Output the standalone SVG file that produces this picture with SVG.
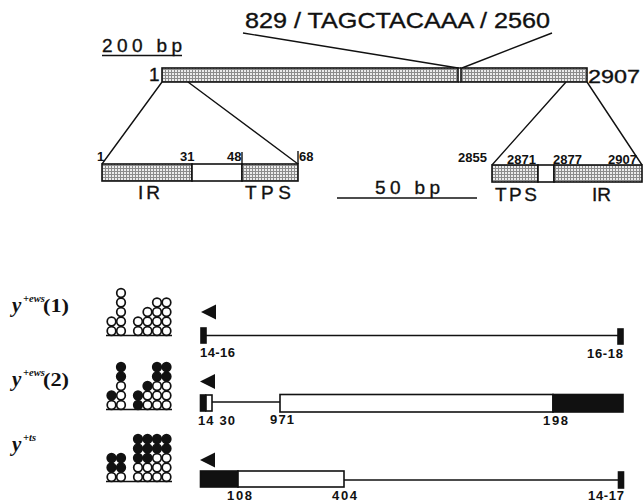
<svg xmlns="http://www.w3.org/2000/svg" width="644" height="502" viewBox="0 0 644 502">
<defs>
<pattern id="stip" width="3" height="3" patternUnits="userSpaceOnUse">
<rect width="3" height="3" fill="#ececec"/>
<path d="M0 0.5H3M0.5 0V3" stroke="#8c8c8c" stroke-width="1"/>
</pattern>
<style>
.t{font-family:"Liberation Sans",Arial,sans-serif;fill:#111}
.big{font-size:22px;stroke:#111;stroke-width:0.35}
.med{font-size:19px;stroke:#111;stroke-width:0.35}
.sm{font-size:13px;font-weight:bold}
.lb{font-size:13px;font-weight:bold}
.ser{font-family:"Liberation Serif","Times New Roman",serif;font-weight:bold;fill:#111}
.st{fill:url(#stip);stroke:#111;stroke-width:1.6}
.wb{fill:#fff;stroke:#111;stroke-width:1.6}
.kb{fill:#111;stroke:#111;stroke-width:1.6}
.ln{stroke:#111;stroke-width:1.4;fill:none}
.w{fill:#fff;stroke:#111;stroke-width:1.7}
.k{fill:#111;stroke:#111;stroke-width:1.7}
.arr{fill:#111}
</style>
</defs>
<rect width="644" height="502" fill="#fff"/>

<g id="connectors">
<path class="ln" d="M243 33L458 68M552 33L462 68"/>
<path class="ln" d="M162 82L102 164M188 82L298 164"/>
<path class="ln" d="M566 82L492 165M587 82L642 165"/>
</g>

<g id="insertion-label">
<text class="t big" x="245" y="28" textLength="305" lengthAdjust="spacingAndGlyphs">829 / TAGCTACAAA / 2560</text>
</g>

<g id="scale-200">
<text class="t med" x="102" y="52" textLength="80" lengthAdjust="spacing">200 bp</text>
<line class="ln" x1="102" y1="55.5" x2="182" y2="55.5"/>
</g>

<g id="full-element">
<rect class="st" x="162" y="68" width="296" height="14"/>
<rect class="st" x="461" y="68" width="126" height="14"/>
<line class="ln" x1="458" y1="68" x2="461" y2="68"/>
<line class="ln" x1="458" y1="82" x2="461" y2="82"/>
<text class="t med" x="149" y="81">1</text>
<text class="t med" x="588" y="83" textLength="52" lengthAdjust="spacingAndGlyphs">2907</text>
</g>

<g id="left-end">
<rect class="st" x="102" y="164" width="90" height="17"/>
<rect class="wb" x="192" y="164" width="50" height="17"/>
<rect class="st" x="242" y="164" width="56" height="17"/>
<line class="ln" x1="242" y1="152" x2="242" y2="164"/>
<line class="ln" x1="298" y1="151" x2="298" y2="164"/>
<text class="t sm" x="97" y="161">1</text>
<text class="t sm" x="180" y="161">31</text>
<text class="t sm" x="227" y="161">48</text>
<text class="t sm" x="299" y="161">68</text>
<text class="t med" x="138" y="199" textLength="22" lengthAdjust="spacing">IR</text>
<text class="t med" x="245" y="199" textLength="46" lengthAdjust="spacing">TPS</text>
</g>

<g id="scale-50">
<text class="t med" x="375" y="194" textLength="65" lengthAdjust="spacing">50 bp</text>
<line class="ln" x1="337" y1="198" x2="477" y2="198"/>
</g>

<g id="right-end">
<rect class="st" x="492" y="165" width="46" height="17"/>
<rect class="wb" x="538" y="165" width="16" height="17"/>
<rect class="st" x="554" y="165" width="88" height="17"/>
<text class="t sm" x="458" y="162">2855</text>
<text class="t sm" x="507" y="164">2871</text>
<text class="t sm" x="553" y="164">2877</text>
<text class="t sm" x="608" y="164">2907</text>
<text class="t med" x="495" y="201" textLength="42" lengthAdjust="spacing">TPS</text>
<text class="t med" x="592" y="201" textLength="19" lengthAdjust="spacing">IR</text>
</g>

<g id="label-ews1">
<text class="ser" x="12" y="312" font-size="21" font-style="italic">y</text>
<text class="ser" x="23" y="302" font-size="10.5" font-style="italic">+ews</text>
<text class="ser" x="43" y="312" font-size="19" textLength="26" lengthAdjust="spacingAndGlyphs">(1)</text>
</g>
<g id="label-ews2">
<text class="ser" x="12" y="386" font-size="21" font-style="italic">y</text>
<text class="ser" x="23" y="376" font-size="10.5" font-style="italic">+ews</text>
<text class="ser" x="43" y="386" font-size="19" textLength="26" lengthAdjust="spacingAndGlyphs">(2)</text>
</g>
<g id="label-ts">
<text class="ser" x="12" y="451" font-size="21" font-style="italic">y</text>
<text class="ser" x="23" y="441" font-size="10.5" font-style="italic">+ts</text>
</g>

<g id="dots-ews1">
<line class="ln" x1="106" y1="335.5" x2="172" y2="335.5"/>
<circle class="w" cx="111.5" cy="331" r="4.3"/><circle class="w" cx="111.5" cy="321.5" r="4.3"/>
<circle class="w" cx="121" cy="331" r="4.3"/><circle class="w" cx="121" cy="321.5" r="4.3"/><circle class="w" cx="121" cy="312" r="4.3"/><circle class="w" cx="121" cy="302.5" r="4.3"/><circle class="w" cx="121" cy="293" r="4.3"/>
<circle class="w" cx="138" cy="331" r="4.3"/><circle class="w" cx="138" cy="321.5" r="4.3"/>
<circle class="w" cx="147.5" cy="331" r="4.3"/><circle class="w" cx="147.5" cy="321.5" r="4.3"/><circle class="w" cx="147.5" cy="312" r="4.3"/>
<circle class="w" cx="157" cy="331" r="4.3"/><circle class="w" cx="157" cy="321.5" r="4.3"/><circle class="w" cx="157" cy="312" r="4.3"/><circle class="w" cx="157" cy="302.5" r="4.3"/>
<circle class="w" cx="166.5" cy="331" r="4.3"/><circle class="w" cx="166.5" cy="321.5" r="4.3"/><circle class="w" cx="166.5" cy="312" r="4.3"/><circle class="w" cx="166.5" cy="302.5" r="4.3"/>
</g>

<g id="dots-ews2">
<line class="ln" x1="106" y1="409.5" x2="172" y2="409.5"/>
<circle class="w" cx="111.5" cy="405" r="4.3"/><circle class="k" cx="111.5" cy="395.5" r="4.3"/>
<circle class="w" cx="121" cy="405" r="4.3"/><circle class="w" cx="121" cy="395.5" r="4.3"/><circle class="w" cx="121" cy="386" r="4.3"/><circle class="k" cx="121" cy="376.5" r="4.3"/><circle class="k" cx="121" cy="367" r="4.3"/>
<circle class="k" cx="138" cy="405" r="4.3"/><circle class="k" cx="138" cy="395.5" r="4.3"/>
<circle class="w" cx="147.5" cy="405" r="4.3"/><circle class="w" cx="147.5" cy="395.5" r="4.3"/><circle class="k" cx="147.5" cy="386" r="4.3"/>
<circle class="w" cx="157" cy="405" r="4.3"/><circle class="w" cx="157" cy="395.5" r="4.3"/><circle class="w" cx="157" cy="386" r="4.3"/><circle class="k" cx="157" cy="376.5" r="4.3"/><circle class="k" cx="157" cy="367" r="4.3"/>
<circle class="w" cx="166.5" cy="405" r="4.3"/><circle class="w" cx="166.5" cy="395.5" r="4.3"/><circle class="w" cx="166.5" cy="386" r="4.3"/><circle class="k" cx="166.5" cy="376.5" r="4.3"/><circle class="k" cx="166.5" cy="367" r="4.3"/>
</g>

<g id="dots-ts">
<line class="ln" x1="106" y1="481.5" x2="172" y2="481.5"/>
<circle class="w" cx="111.5" cy="477" r="4.3"/><circle class="k" cx="111.5" cy="467.5" r="4.3"/><circle class="k" cx="111.5" cy="458" r="4.3"/>
<circle class="w" cx="121" cy="477" r="4.3"/><circle class="k" cx="121" cy="467.5" r="4.3"/><circle class="k" cx="121" cy="458" r="4.3"/>
<circle class="w" cx="138" cy="477" r="4.3"/><circle class="w" cx="138" cy="467.5" r="4.3"/><circle class="k" cx="138" cy="458" r="4.3"/><circle class="k" cx="138" cy="448.5" r="4.3"/><circle class="k" cx="138" cy="439" r="4.3"/>
<circle class="w" cx="147.5" cy="477" r="4.3"/><circle class="w" cx="147.5" cy="467.5" r="4.3"/><circle class="k" cx="147.5" cy="458" r="4.3"/><circle class="k" cx="147.5" cy="448.5" r="4.3"/><circle class="k" cx="147.5" cy="439" r="4.3"/>
<circle class="w" cx="157" cy="477" r="4.3"/><circle class="w" cx="157" cy="467.5" r="4.3"/><circle class="w" cx="157" cy="458" r="4.3"/><circle class="k" cx="157" cy="448.5" r="4.3"/><circle class="k" cx="157" cy="439" r="4.3"/>
<circle class="w" cx="166.5" cy="477" r="4.3"/><circle class="w" cx="166.5" cy="467.5" r="4.3"/><circle class="w" cx="166.5" cy="458" r="4.3"/><circle class="k" cx="166.5" cy="448.5" r="4.3"/><circle class="k" cx="166.5" cy="439" r="4.3"/>
</g>

<g id="map-ews1">
<polygon class="arr" points="201,312 216,304.5 216,319.5"/>
<line class="ln" x1="206" y1="335.5" x2="618" y2="335.5"/>
<rect class="kb" x="201" y="328" width="5" height="15"/>
<rect class="kb" x="618" y="329" width="5" height="15"/>
<text class="t lb" x="200" y="357" textLength="35" lengthAdjust="spacing">14-16</text>
<text class="t lb" x="587" y="358" textLength="36" lengthAdjust="spacing">16-18</text>
</g>

<g id="map-ews2">
<polygon class="arr" points="200,381.5 215,374 215,389"/>
<line class="ln" x1="212" y1="402" x2="280" y2="402"/>
<rect class="kb" x="200.5" y="395" width="5" height="16"/>
<rect class="wb" x="206" y="395" width="6" height="16"/>
<rect class="wb" x="280" y="394.5" width="273" height="17.5"/>
<rect class="kb" x="553" y="394.5" width="70" height="17.5"/>
<text class="t lb" x="198" y="425" textLength="37" lengthAdjust="spacing">14 30</text>
<text class="t lb" x="270" y="424" textLength="24" lengthAdjust="spacing">971</text>
<text class="t lb" x="543" y="425" textLength="25" lengthAdjust="spacing">198</text>
</g>

<g id="map-ts">
<polygon class="arr" points="200,460 215,452.5 215,467.5"/>
<rect class="kb" x="200.5" y="471" width="37.5" height="16"/>
<rect class="wb" x="238" y="471" width="106" height="16"/>
<line class="ln" x1="344" y1="480" x2="618" y2="480"/>
<rect class="kb" x="618.5" y="472" width="5" height="16"/>
<text class="t lb" x="227" y="500" textLength="25" lengthAdjust="spacing">108</text>
<text class="t lb" x="332" y="500" textLength="25" lengthAdjust="spacing">404</text>
<text class="t lb" x="588" y="500" textLength="36" lengthAdjust="spacing">14-17</text>
</g>
</svg>
